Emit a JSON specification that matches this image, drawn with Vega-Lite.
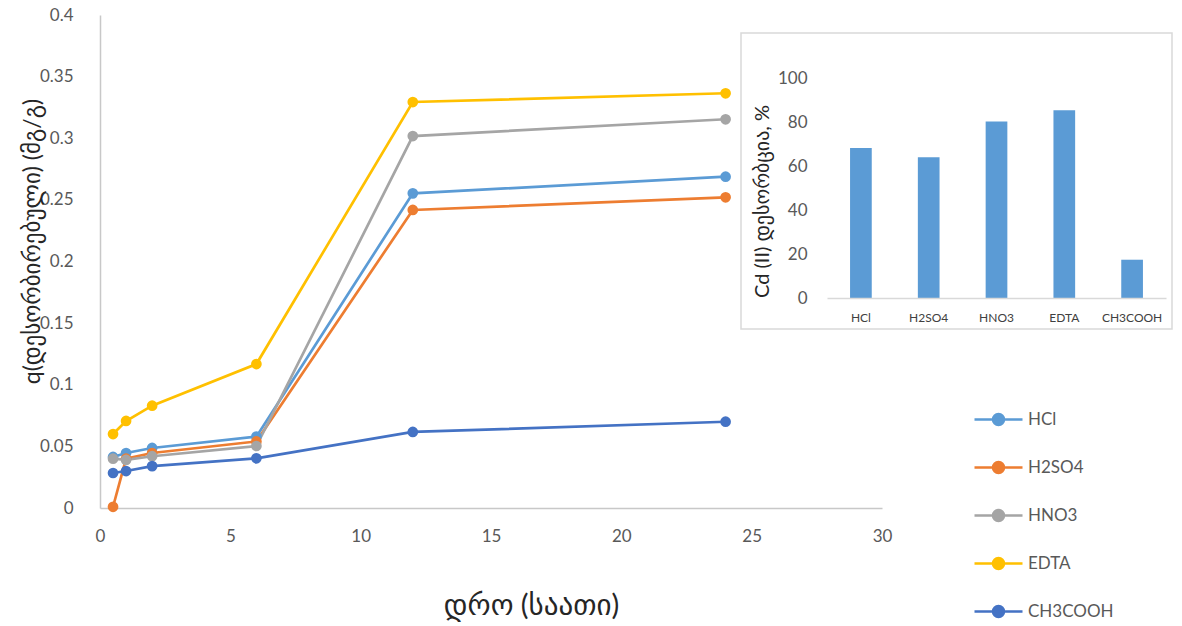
{
  "$schema": "https://vega.github.io/schema/vega-lite/v6.json",
  "width": 1182,
  "height": 626,
  "padding": 0,
  "autosize": {"type": "none"},
  "background": "white",
  "config": {
    "view": {"stroke": null},
    "font": "Lato, DejaVu Sans",
    "axis": {"grid": false, "ticks": false, "labelFlush": false, "labelOverlap": false}
  },
  "datasets": {
    "kinetics": [
      {"acid": "HCl", "hour": 0.5, "q": 0.0414},
      {"acid": "HCl", "hour": 1, "q": 0.0446},
      {"acid": "HCl", "hour": 2, "q": 0.0487},
      {"acid": "HCl", "hour": 6, "q": 0.0579},
      {"acid": "HCl", "hour": 12, "q": 0.2553},
      {"acid": "HCl", "hour": 24, "q": 0.2688},
      {"acid": "H2SO4", "hour": 0.5, "q": 0.001},
      {"acid": "H2SO4", "hour": 1, "q": 0.040},
      {"acid": "H2SO4", "hour": 2, "q": 0.0446},
      {"acid": "H2SO4", "hour": 6, "q": 0.054},
      {"acid": "H2SO4", "hour": 12, "q": 0.2418},
      {"acid": "H2SO4", "hour": 24, "q": 0.2521},
      {"acid": "HNO3", "hour": 0.5, "q": 0.040},
      {"acid": "HNO3", "hour": 1, "q": 0.039},
      {"acid": "HNO3", "hour": 2, "q": 0.042},
      {"acid": "HNO3", "hour": 6, "q": 0.0503},
      {"acid": "HNO3", "hour": 12, "q": 0.3018},
      {"acid": "HNO3", "hour": 24, "q": 0.3154},
      {"acid": "EDTA", "hour": 0.5, "q": 0.060},
      {"acid": "EDTA", "hour": 1, "q": 0.0706},
      {"acid": "EDTA", "hour": 2, "q": 0.083},
      {"acid": "EDTA", "hour": 6, "q": 0.1168},
      {"acid": "EDTA", "hour": 12, "q": 0.3294},
      {"acid": "EDTA", "hour": 24, "q": 0.3365},
      {"acid": "CH3COOH", "hour": 0.5, "q": 0.0284},
      {"acid": "CH3COOH", "hour": 1, "q": 0.030},
      {"acid": "CH3COOH", "hour": 2, "q": 0.034},
      {"acid": "CH3COOH", "hour": 6, "q": 0.0403},
      {"acid": "CH3COOH", "hour": 12, "q": 0.0617},
      {"acid": "CH3COOH", "hour": 24, "q": 0.070}
    ],
    "recovery": [
      {"agent": "HCl", "pct": 68.2},
      {"agent": "H2SO4", "pct": 64.0},
      {"agent": "HNO3", "pct": 80.2},
      {"agent": "EDTA", "pct": 85.3},
      {"agent": "CH3COOH", "pct": 17.4}
    ]
  },
  "layer": [
    {
      "data": {"values": [{}]},
      "mark": {"type": "rect", "fill": null, "fillOpacity": 0, "stroke": "#D9D9D9", "strokeWidth": 1.5},
      "encoding": {
        "x": {"datum": 0, "type": "quantitative", "scale": {"domain": [0, 1], "range": [741, 1172]}, "axis": null},
        "x2": {"datum": 1},
        "y": {"datum": 0, "type": "quantitative", "scale": {"domain": [0, 1], "range": [329, 33]}, "axis": null},
        "y2": {"datum": 1}
      }
    },
    {
      "data": {"name": "recovery"},
      "mark": {"type": "bar", "color": "#5B9BD5"},
      "encoding": {
        "x": {
          "field": "agent", "type": "nominal", "sort": null,
          "scale": {"range": [827, 1166], "paddingInner": 0.68, "paddingOuter": 0.34},
          "axis": {
            "orient": "bottom", "offset": -328, "title": null, "labelAngle": 0,
            "domainColor": "#D9D9D9", "domainWidth": 1.5, "zindex": 1,
            "labelFontSize": 12, "labelColor": "#404040", "labelPadding": 14
          }
        },
        "y": {
          "field": "pct", "type": "quantitative",
          "scale": {"domain": [0, 100], "range": [298, 78], "nice": false},
          "axis": {
            "orient": "left", "offset": -827, "domain": false, "zindex": 1,
            "values": [0, 20, 40, 60, 80, 100],
            "labelFontSize": 17, "labelColor": "#595959", "labelPadding": 20,
            "title": "Cd (II) დესორბცია, %", "titleFontSize": 20, "titleFontWeight": "normal",
            "titleColor": "#262626", "titleX": -65, "titleY": 201,
            "titleAlign": "center", "titleBaseline": "middle", "titleAngle": -90
          }
        }
      }
    },
    {
      "data": {"name": "kinetics"},
      "encoding": {
        "x": {
          "field": "hour", "type": "quantitative",
          "scale": {"domain": [0, 30], "range": [100, 882], "nice": false},
          "axis": {
            "orient": "bottom", "offset": -118,
            "values": [0, 5, 10, 15, 20, 25, 30],
            "domainColor": "#C8C8C8", "domainWidth": 1.5,
            "labelFontSize": 17, "labelColor": "#595959", "labelPadding": 20,
            "title": "დრო (საათი)", "titleFontSize": 29, "titleFontWeight": "normal",
            "titleColor": "#262626", "titleX": 531, "titleY": 97,
            "titleAlign": "center", "titleBaseline": "middle"
          }
        },
        "y": {
          "field": "q", "type": "quantitative",
          "scale": {"domain": [0, 0.4], "range": [508, 15], "nice": false},
          "axis": {
            "orient": "left", "offset": -100,
            "values": [0, 0.05, 0.1, 0.15, 0.2, 0.25, 0.3, 0.35, 0.4],
            "format": ".2~f",
            "domainColor": "#C8C8C8", "domainWidth": 1.5,
            "labelFontSize": 17, "labelColor": "#595959", "labelPadding": 27,
            "title": "q(დესორბირებული) (მგ/გ)", "titleFontSize": 23, "titleFontWeight": "normal",
            "titleColor": "#262626", "titleX": -68, "titleY": 241,
            "titleAlign": "center", "titleBaseline": "middle", "titleAngle": -90
          }
        },
        "color": {
          "field": "acid", "type": "nominal",
          "scale": {
            "domain": ["HCl", "H2SO4", "HNO3", "EDTA", "CH3COOH"],
            "range": ["#5B9BD5", "#ED7D31", "#A5A5A5", "#FFC000", "#4472C4"]
          },
          "legend": {
            "orient": "none", "legendX": 973, "legendY": 394,
            "title": null,
            "symbolType": "M-1,0L1,0M0.23,0A0.23,0.23,0,1,1,-0.23,0A0.23,0.23,0,1,1,0.23,0Z",
            "symbolSize": 2304, "symbolStrokeWidth": 2.5,
            "labelFontSize": 17, "labelColor": "#595959", "labelOffset": 4,
            "rowPadding": 11,
            "encode": {
              "symbols": {
                "update": {
                  "fill": {"scale": "color", "field": "value"},
                  "stroke": {"scale": "color", "field": "value"},
                  "opacity": {"value": 1}
                }
              }
            }
          }
        }
      },
      "layer": [
        {"mark": {"type": "line", "strokeWidth": 2.7}},
        {"mark": {"type": "point", "filled": true, "size": 115, "opacity": 1}}
      ]
    }
  ],
  "resolve": {
    "scale": {"x": "independent", "y": "independent"},
    "axis": {"x": "independent", "y": "independent"}
  }
}
